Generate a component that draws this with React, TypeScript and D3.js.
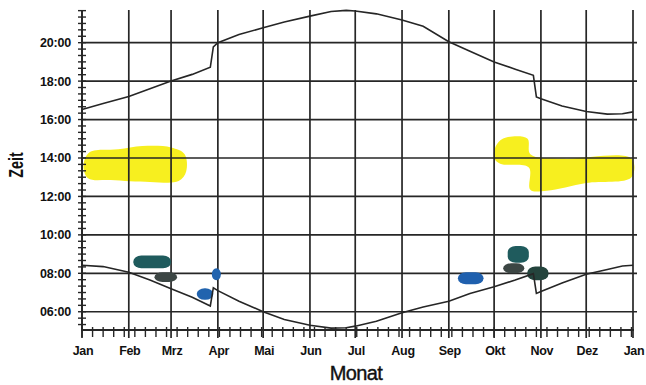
import React from "react";
import * as d3 from "d3";

const W = 646;
const H = 385;

const monthLabels = ["Jan", "Feb", "Mrz", "Apr", "Mai", "Jun", "Jul", "Aug", "Sep", "Okt", "Nov", "Dez", "Jan"];
const hourTicks = [6, 8, 10, 12, 14, 16, 18, 20];

// [month(1-12), day, hours]
const sunset: [number, number, number][] = [
  [1, 1, 16.52], [1, 15, 16.83], [2, 1, 17.2], [2, 15, 17.6], [3, 1, 18.0], [3, 15, 18.35],
  [3, 27, 18.72], [3, 29, 19.78], [4, 1, 20.0], [4, 15, 20.42], [5, 1, 20.78], [5, 15, 21.08],
  [6, 1, 21.38], [6, 15, 21.62], [6, 25, 21.68], [7, 1, 21.65], [7, 15, 21.5], [8, 1, 21.18],
  [8, 15, 20.85], [9, 1, 20.05], [9, 15, 19.55], [10, 1, 19.0], [10, 15, 18.62], [10, 27, 18.3],
  [10, 29, 17.18], [11, 1, 17.08], [11, 15, 16.7], [12, 1, 16.42], [12, 15, 16.28], [12, 25, 16.3],
  [13, 1, 16.4],
];

const sunrise: [number, number, number][] = [
  [1, 1, 8.42], [1, 15, 8.35], [2, 1, 8.05], [2, 15, 7.65], [3, 1, 7.2], [3, 15, 6.75],
  [3, 27, 6.3], [3, 29, 7.25], [4, 1, 7.1], [4, 15, 6.55], [5, 1, 6.0], [5, 15, 5.6],
  [6, 1, 5.3], [6, 15, 5.15], [6, 25, 5.17], [7, 1, 5.25], [7, 15, 5.5], [8, 1, 5.95],
  [8, 15, 6.25], [9, 1, 6.55], [9, 15, 6.95], [10, 1, 7.3], [10, 15, 7.65], [10, 27, 7.98],
  [10, 29, 6.95], [11, 1, 7.05], [11, 15, 7.5], [12, 1, 7.95], [12, 15, 8.2], [12, 25, 8.38],
  [13, 1, 8.42],
];

// highlighter blobs: polygon points [month, day, hours]
const yellowLeft: [number, number, number][] = [
  [1, 2, 13.6], [1, 6, 14.3], [1, 25, 14.45], [2, 10, 14.62], [3, 1, 14.55], [3, 10, 14.2],
  [3, 11, 13.3], [3, 6, 12.8], [2, 15, 12.75], [1, 20, 12.85], [1, 5, 12.95],
];
const yellowRight: [number, number, number][] = [
  [10, 2, 14.6], [10, 7, 15.02], [10, 23, 15.02], [10, 25, 14.2], [11, 15, 13.97], [12, 31, 13.97],
  [12, 31, 13.0], [12, 1, 12.7], [11, 5, 12.3], [10, 25, 12.35], [10, 24, 13.5], [10, 5, 13.7],
  [10, 1, 14.0],
];

// marker blobs: [startMonth, startDay, endMonth, endDay, topHour, bottomHour, color]
const markers: [number, number, number, number, number, number, string][] = [
  [2, 4, 3, 1, 8.93, 8.26, "#1f5b5d"],
  [2, 18, 3, 5, 8.05, 7.55, "#3c4644"],
  [3, 28, 4, 3, 8.26, 7.64, "#2163ae"],
  [3, 18, 3, 29, 7.22, 6.62, "#2163ae"],
  [9, 7, 9, 24, 8.05, 7.43, "#1f60ae"],
  [10, 10, 10, 24, 9.42, 8.55, "#1f5b5d"],
  [10, 7, 10, 21, 8.52, 8.0, "#3c4644"],
  [10, 23, 11, 6, 8.36, 7.64, "#24443d"],
];

const dt = (m: number, d: number) => new Date(2001, m - 1, d);

export default function App() {
  const x = d3.scaleTime().domain([dt(1, 1), dt(13, 1)]).range([82, 633]);
  const y = d3.scaleLinear().domain([5.05, 21.7]).range([330, 10]);

  const line = d3
    .line<[number, number, number]>()
    .x((p) => x(dt(p[0], p[1])))
    .y((p) => y(p[2]));

  const blob = d3
    .line<[number, number, number]>()
    .x((p) => x(dt(p[0], p[1])))
    .y((p) => y(p[2]))
    .curve(d3.curveCatmullRomClosed.alpha(0.5));

  const months = d3.timeMonth.range(dt(1, 1), dt(13, 2));
  const weeks = d3.timeDay.range(dt(1, 1), dt(13, 2), 7);
  const minorY = d3.range(16, 66).map((i) => i / 3).filter((h) => h > 5.05 && h < 21.72);

  const font = "'Liberation Sans', Arial, sans-serif";
  const ink = "#262626";

  return (
    <svg width={W} height={H} style={{ position: "absolute", left: 0, top: 0, background: "#fff" }}>
      <rect width={W} height={H} fill="#fff" />
      {/* highlighter */}
      <path d={blob(yellowLeft) || ""} fill="#f7ef1f" />
      <path d={blob(yellowRight) || ""} fill="#f7ef1f" />

      {/* grid */}
      {hourTicks.map((h) => (
        <line key={"h" + h} x1={82} x2={637} y1={y(h)} y2={y(h)} stroke={ink} strokeWidth={1.7} />
      ))}
      {months.map((m, i) => (
        <line key={"m" + i} x1={x(m)} x2={x(m)} y1={10} y2={338} stroke={ink} strokeWidth={1.7} />
      ))}

      {/* markers */}
      {markers.map((b, i) => {
        const x0 = x(dt(b[0], b[1]));
        const x1 = x(dt(b[2], b[3]));
        const y0 = y(b[4]);
        const y1 = y(b[5]);
        return (
          <rect
            key={"b" + i}
            x={x0}
            y={y0}
            width={x1 - x0}
            height={y1 - y0}
            rx={Math.min(8, (x1 - x0) / 2)}
            ry={Math.min(6, (y1 - y0) / 2)}
            fill={b[6]}
          />
        );
      })}

      {/* curves */}
      <path d={line(sunset) || ""} fill="none" stroke={ink} strokeWidth={1.6} />
      <path d={line(sunrise) || ""} fill="none" stroke={ink} strokeWidth={1.6} />

      {/* y axis */}
      <line x1={82} x2={82} y1={10} y2={331} stroke={ink} strokeWidth={1.8} />
      {minorY.map((h, i) => (
        <line key={"yt" + i} x1={78} x2={86} y1={y(h)} y2={y(h)} stroke={ink} strokeWidth={1.4} />
      ))}
      {hourTicks.map((h) => (
        <text
          key={"yl" + h}
          x={71}
          y={y(h) + 4.5}
          textAnchor="end"
          fontFamily={font}
          fontWeight="bold"
          fontSize={12.5}
          letterSpacing={-0.2}
          fill="#111"
        >
          {(h < 10 ? "0" : "") + h + ":00"}
        </text>
      ))}

      {/* x axis */}
      <line x1={82} x2={634} y1={330} y2={330} stroke={ink} strokeWidth={1.8} />
      {weeks.map((w, i) => (
        <line key={"xt" + i} x1={x(w)} x2={x(w)} y1={327} y2={337} stroke={ink} strokeWidth={1.4} />
      ))}
      {months.map((m, i) => (
        <text
          key={"xl" + i}
          x={x(m) + 1}
          y={355}
          textAnchor="middle"
          fontFamily={font}
          fontWeight="bold"
          fontSize={12.5}
          letterSpacing={-0.3}
          fill="#111"
        >
          {monthLabels[i]}
        </text>
      ))}

      <text
        x={356}
        y={380}
        textAnchor="middle"
        fontFamily={font}
        fontSize={20}
        fontWeight={500}
        letterSpacing={-0.6}
        fill="#111"
        stroke="#111"
        strokeWidth={0.4}
      >
        Monat
      </text>
      <text
        transform="translate(23,165) rotate(-90) scale(0.72,1)"
        textAnchor="middle"
        fontFamily={font}
        fontSize={20}
        fontWeight="bold"
        fill="#111"
      >
        Zeit
      </text>
    </svg>
  );
}
